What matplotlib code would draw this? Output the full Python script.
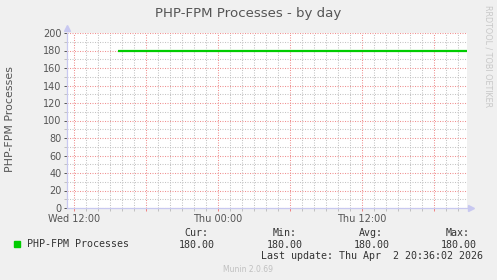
"""
Munin style "PHP-FPM Processes - by day" graph.
"""
import matplotlib

matplotlib.use("Agg")
import matplotlib.dates as mdates
import matplotlib.pyplot as plt
import numpy as np

# --- data ------------------------------------------------------------------
TITLE = "PHP-FPM Processes - by day"
SERIES_LABEL = "PHP-FPM Processes"
times = np.array(["2026-04-01T15:42", "2026-04-02T20:44"], dtype="datetime64[m]")
processes = [180, 180]
view_range = np.array(["2026-04-01T11:25", "2026-04-02T20:45"], dtype="datetime64[m]")
y_ticks = [0, 20, 40, 60, 80, 100, 120, 140, 160, 180, 200]
stat_names = ["Cur:", "Min:", "Avg:", "Max:"]
stat_values = [180.00, 180.00, 180.00, 180.00]
last_update = "Last update: Thu Apr  2 20:36:02 2026"
footer = "Munin 2.0.69"
side_note = "RRDTOOL / TOBI OETIKER"

W, H = 497, 280
BG = "#F0F0F0"
GREEN = "#00CC00"
TXT = "#555555"
AXIS = "#C8C8F0"

fig = plt.figure(figsize=(W / 100, H / 100), dpi=100, facecolor=BG)


def px(x, y):
    """pixel (from top-left) -> figure fraction"""
    return x / W, 1 - y / H


ax = fig.add_axes([67 / W, 1 - 208 / H, 400 / W, 175 / H])
ax.set_facecolor("white")

x = mdates.date2num(times.astype("datetime64[s]").astype(object))
ax.plot(x, processes, color=GREEN, lw=1.6, solid_capstyle="butt", zorder=5)

ax.set_xlim(mdates.date2num(view_range.astype("datetime64[s]").astype(object)))
ax.set_ylim(0, 200)

# grid: grey minor, red major
ax.xaxis.set_major_locator(mdates.HourLocator(byhour=[0, 6, 12, 18]))
ax.xaxis.set_minor_locator(mdates.HourLocator())
ax.set_yticks(y_ticks)
ax.set_yticks(np.arange(0, 201, 10), minor=True)


def fmt_time(v, pos):
    d = mdates.num2date(v)
    if d.hour in (0, 12):
        return d.strftime("%a %H:%M")
    return ""


ax.xaxis.set_major_formatter(plt.FuncFormatter(fmt_time))

dot = (0, (1, 1.4))
ax.grid(which="minor", color="#C4C4C4", lw=0.75, ls=dot)
ax.grid(which="major", color="#F09090", lw=0.75, ls=dot)
ax.set_axisbelow(True)

for s in ["top", "right"]:
    ax.spines[s].set_visible(False)
for s in ["left", "bottom"]:
    ax.spines[s].set_color(AXIS)
    ax.spines[s].set_linewidth(0.9)

ax.tick_params(which="both", length=2, width=0.7, colors=TXT, labelsize=7, pad=2)
ax.tick_params(axis="x", which="major", colors="#F08080", labelcolor=TXT)
ax.tick_params(which="minor", length=2, color="#C0C0C0")

# axis arrows
ax.plot([0], [1.03], marker="^", ms=4, color=AXIS, transform=ax.transAxes, clip_on=False)
ax.plot([1.01], [0], marker=">", ms=4, color=AXIS, transform=ax.transAxes, clip_on=False)

fig.text(*px(248, 14), TITLE, ha="center", va="center", fontsize=9.6, color=TXT)
fig.text(*px(10, 119), "PHP-FPM Processes", rotation=90, ha="center", va="center",
         fontsize=7.9, color=TXT)
fig.text(*px(488, 5), side_note, rotation=270, ha="center", va="top",
         fontsize=5.8, color="#C8C8C8")

# legend / stats block
mono = dict(family="DejaVu Sans Mono", fontsize=7.2, color="#333333")
fig.patches.append(plt.Rectangle(px(14, 247), 6 / W, 6 / H, color=GREEN,
                                 transform=fig.transFigure, figure=fig))
fig.text(*px(27, 244), SERIES_LABEL, ha="left", va="center", **mono)
name_right = [208, 297, 383, 470]
value_right = [215, 303, 390, 477]
for name, val, xn, xv in zip(stat_names, stat_values, name_right, value_right):
    fig.text(*px(xn, 233), name, ha="right", va="center", **mono)
    fig.text(*px(xv, 245), f"{val:.2f}", ha="right", va="center", **mono)
fig.text(*px(483, 256), last_update, ha="right", va="center", **mono)
fig.text(*px(248, 269), footer, ha="center", va="center", fontsize=5.5, color="#C0C0C0")

fig.savefig("out.png", dpi=100, facecolor=BG)
